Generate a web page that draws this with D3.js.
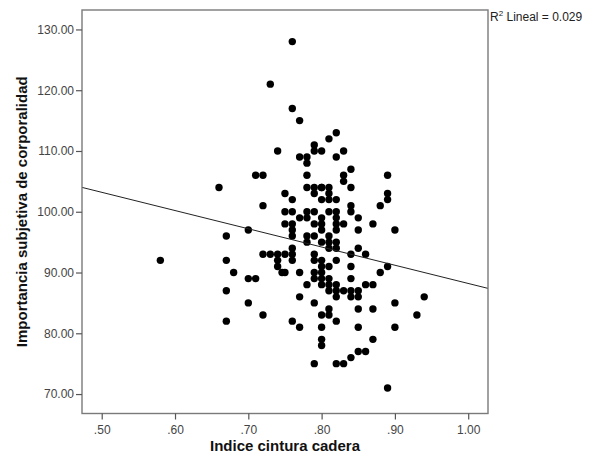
<!DOCTYPE html>
<html>
<head>
<meta charset="utf-8">
<script src="https://cdn.jsdelivr.net/npm/d3@7"></script>
<style>
  body { margin: 0; background: #fff; }
  text { font-family: "Liberation Sans", Arial, sans-serif; }
</style>
</head>
<body>
<svg id="chart"></svg>
<script>
// indice cintura cadera (x) and importancia subjetiva de corporalidad (y)
const icc = [
  .58, .66, .67, .67, .67, .67, .68, .70, .70, .70, .71, .71, .72, .72, .72, .72, .73, .73,
  .74, .74, .74, .74, .746, .75, .75, .75, .75, .75,
  .76, .76, .76, .76, .76, .76, .76, .76, .76, .76, .76,
  .77, .77, .77, .77, .77, .77,
  .78, .78, .78, .78, .78, .78, .78, .78, .78,
  .79, .79, .79, .79, .79, .79, .79, .79, .79, .79, .79, .79, .79,
  .80, .80, .80, .80, .80, .80, .80, .80, .80, .80, .80, .80, .80, .80, .80, .80, .80,
  .81, .81, .81, .81, .81, .81, .81, .81, .81, .81, .81, .81, .81, .81,
  .82, .82, .82, .82, .82, .82, .82, .82, .82, .82, .82, .82, .82, .82, .82,
  .83, .83, .83, .83, .83, .83,
  .84, .84, .84, .84, .84, .84, .84, .84, .84, .84,
  .85, .85, .85, .85, .85, .85, .85, .85,
  .86, .86, .86, .87, .87, .87, .87, .88, .88,
  .89, .89, .89, .89, .89, .90, .90, .90, .93, .94
];
const importancia = [
  92, 104, 96, 92, 87, 82, 90, 97, 89, 85, 106, 89, 106, 101, 93, 83, 121, 93,
  110, 93, 92, 91, 90, 103, 100, 98, 93, 90,
  128, 117, 102, 100, 98, 97, 96, 94, 93, 92, 82,
  115, 109, 99, 90, 86, 81,
  109, 108, 106, 104, 100, 99, 96, 95, 88,
  111, 110, 104, 103, 100, 98, 96, 93, 92, 90, 89, 85, 75,
  110, 104, 102, 99, 98, 97, 95, 92, 91, 90, 89, 88, 83, 81, 79, 78, 104,
  112, 104, 103, 102, 100, 96, 95, 94, 91, 89, 88, 87, 84, 83,
  113, 109, 102, 100, 99, 98, 97, 95, 94, 92, 88, 87, 86, 82, 75,
  110, 106, 105, 98, 87, 75,
  107, 104, 101, 100, 93, 91, 89, 87, 86, 76,
  99, 97, 94, 87, 86, 84, 81, 77,
  93, 88, 77, 98, 88, 84, 79, 101, 90,
  106, 103, 102, 91, 71, 97, 85, 81, 83, 86
];
const xTicks = [0.5, 0.6, 0.7, 0.8, 0.9, 1.0];
const yTicks = [70, 80, 90, 100, 110, 120, 130];
// fitted linear line
const fitIntercept = 118.2;
const fitSlope = -30.0;
const rSquared = "0.029";

const W = 595, H = 462;
const pLeft = 82, pRight = 488, pTop = 10, pBottom = 413.5;

const svg = d3.select("#chart").attr("width", W).attr("height", H);

const x = d3.scaleLinear().domain([0.4731, 1.027]).range([pLeft, pRight]);
const y = d3.scaleLinear().domain([66.8, 133.2]).range([pBottom, pTop]);

const plot = svg.append("g");

svg.append("defs").append("clipPath").attr("id", "clip")
  .append("rect")
  .attr("x", pLeft).attr("y", pTop)
  .attr("width", pRight - pLeft).attr("height", pBottom - pTop);

// points
plot.append("g").selectAll("circle")
  .data(icc.map((d, i) => [d, importancia[i]]))
  .enter().append("circle")
  .attr("cx", d => x(d[0]))
  .attr("cy", d => y(d[1]))
  .attr("r", 3.7)
  .attr("fill", "#000");

// fit line
const [x0, x1] = x.domain();
plot.append("line")
  .attr("clip-path", "url(#clip)")
  .attr("x1", x(x0)).attr("y1", y(fitIntercept + fitSlope * x0))
  .attr("x2", x(x1)).attr("y2", y(fitIntercept + fitSlope * x1))
  .attr("stroke", "#222")
  .attr("stroke-width", 1);

// frame
svg.append("rect")
  .attr("x", pLeft).attr("y", pTop)
  .attr("width", pRight - pLeft).attr("height", pBottom - pTop)
  .attr("fill", "none")
  .attr("stroke", "#7a7a7a")
  .attr("stroke-width", 1.4);

// axes
const xAxis = d3.axisBottom(x).tickValues(xTicks)
  .tickFormat(d => d3.format(".2f")(d).replace(/^0/, ""))
  .tickSize(6).tickSizeOuter(0);
const gx = svg.append("g").attr("transform", `translate(0,${pBottom})`).call(xAxis);

const yAxis = d3.axisLeft(y).tickValues(yTicks)
  .tickFormat(d3.format(".2f"))
  .tickSize(6).tickSizeOuter(0);
const gy = svg.append("g").attr("transform", `translate(${pLeft},0)`).call(yAxis);

[gx, gy].forEach(g => {
  g.select(".domain").remove();
  g.selectAll(".tick line").attr("stroke", "#555").attr("stroke-width", 1.2);
  g.selectAll(".tick text")
    .attr("fill", "#444")
    .attr("font-size", 12)
    .attr("font-family", "Liberation Sans, Arial, sans-serif");
});
gx.selectAll(".tick text").attr("dy", "1em").attr("y", 8);
gy.selectAll(".tick text").attr("x", -8);

// axis titles
svg.append("text")
  .attr("x", (pLeft + pRight) / 2)
  .attr("y", 451)
  .attr("text-anchor", "middle")
  .attr("font-size", 15)
  .attr("font-weight", "bold")
  .attr("fill", "#111")
  .text("Indice cintura cadera");

svg.append("text")
  .attr("transform", `translate(27,${(pTop + pBottom) / 2}) rotate(-90)`)
  .attr("text-anchor", "middle")
  .attr("font-size", 15)
  .attr("font-weight", "bold")
  .attr("fill", "#111")
  .text("Importancia subjetiva de corporalidad");

// R squared label
const rl = svg.append("text")
  .attr("x", pRight + 2)
  .attr("y", 21)
  .attr("font-size", 12)
  .attr("fill", "#222");
rl.append("tspan").text("R");
rl.append("tspan").attr("font-size", 8).attr("dy", -5).text("2");
rl.append("tspan").attr("dy", 5).text(" Lineal = " + rSquared);
</script>
</body>
</html>
